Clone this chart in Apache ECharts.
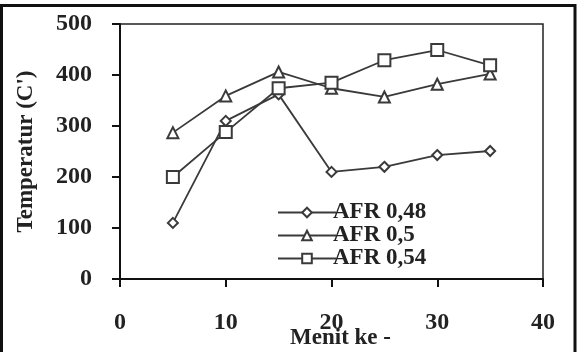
<!DOCTYPE html>
<html>
<head>
<meta charset="utf-8">
<script src="https://cdn.jsdelivr.net/npm/echarts@6/dist/echarts.min.js"></script>
<style>
  html, body { margin: 0; padding: 0; background: #fff; }
  #chart { width: 579px; height: 352px; }
</style>
</head>
<body>
<div id="chart"></div>
<script>
// menit ke- (x) dan temperatur tiap AFR
const menit = [5, 10, 15, 20, 25, 30, 35];
const afr048 = [110, 310, 362, 210, 220, 243, 251];
const afr05 = [287, 359, 406, 374, 357, 382, 402];
const afr054 = [200, 288, 374, 385, 429, 449, 419];
const seriesNames = ["AFR 0,48", "AFR 0,5", "AFR 0,54"];

const font = "'Liberation Serif', 'Times New Roman', serif";
const lineColor = "#3a3a3a";

const pairs = (ys) => menit.map((x, i) => [x, ys[i]]);

const mkSeries = (name, ys, symbol, size) => ({
  name: name,
  type: "line",
  data: pairs(ys),
  symbol: symbol,
  symbolSize: size,
  showAllSymbol: true,
  lineStyle: { color: lineColor, width: 1.8 },
  itemStyle: { color: lineColor, borderWidth: 1.6 },
  emphasis: { disabled: true },
  z: 3,
});

const chart = echarts.init(document.getElementById("chart"));
const option = {
  backgroundColor: "#fff",
  animation: false,
  grid: {
    left: 120,
    right: 36,
    top: 24,
    bottom: 73,
    outerBoundsMode: "none",
    containLabel: false,
    show: true,
    borderColor: "#222",
    borderWidth: 1.5,
  },
  legend: {
    orient: "vertical",
    left: 272,
    top: 196,
    itemWidth: 58,
    itemHeight: 12,
    itemGap: 0,
    textStyle: { fontFamily: font, fontWeight: "bold", fontSize: 23, color: "#222", padding: [0, 0, 0, -8] },
    data: seriesNames,
  },
  xAxis: {
    type: "value",
    min: 0,
    max: 40,
    interval: 10,
    name: "Menit ke -",
    nameLocation: "middle",
    nameGap: 48,
    nameMoveOverlap: false,
    nameTextStyle: { fontFamily: font, fontWeight: "bold", fontSize: 23, color: "#222", padding: [0, 0, 0, 18] },
    axisLine: { lineStyle: { color: "#111", width: 2 } },
    axisTick: { inside: false, length: 8, lineStyle: { color: "#111", width: 2 } },
    axisLabel: { margin: 32, fontFamily: font, fontWeight: "bold", fontSize: 24, color: "#222" },
    splitLine: { show: false },
  },
  yAxis: {
    type: "value",
    min: 0,
    max: 500,
    interval: 100,
    name: "Temperatur (C')",
    nameLocation: "middle",
    nameGap: 82,
    nameMoveOverlap: false,
    nameTextStyle: { fontFamily: font, fontWeight: "bold", fontSize: 23, color: "#222" },
    axisLine: { show: true, lineStyle: { color: "#111", width: 2 } },
    axisTick: { show: true, inside: false, length: 8, lineStyle: { color: "#111", width: 2 } },
    axisLabel: { margin: 28, fontFamily: font, fontWeight: "bold", fontSize: 24, color: "#222" },
    splitLine: { show: false },
  },
  graphic: [
    {
      type: "rect",
      shape: { x: 1.5, y: 5.5, width: 573.5, height: 360 },
      style: { fill: null, stroke: "#111", lineWidth: 3 },
      silent: true,
    },
  ],
  series: [
    mkSeries(seriesNames[0], afr048, "emptyDiamond", 10),
    mkSeries(seriesNames[1], afr05, "emptyTriangle", 11),
    mkSeries(seriesNames[2], afr054, "emptyRect", 12),
  ],
};
option && chart.setOption(option);
</script>
</body>
</html>
